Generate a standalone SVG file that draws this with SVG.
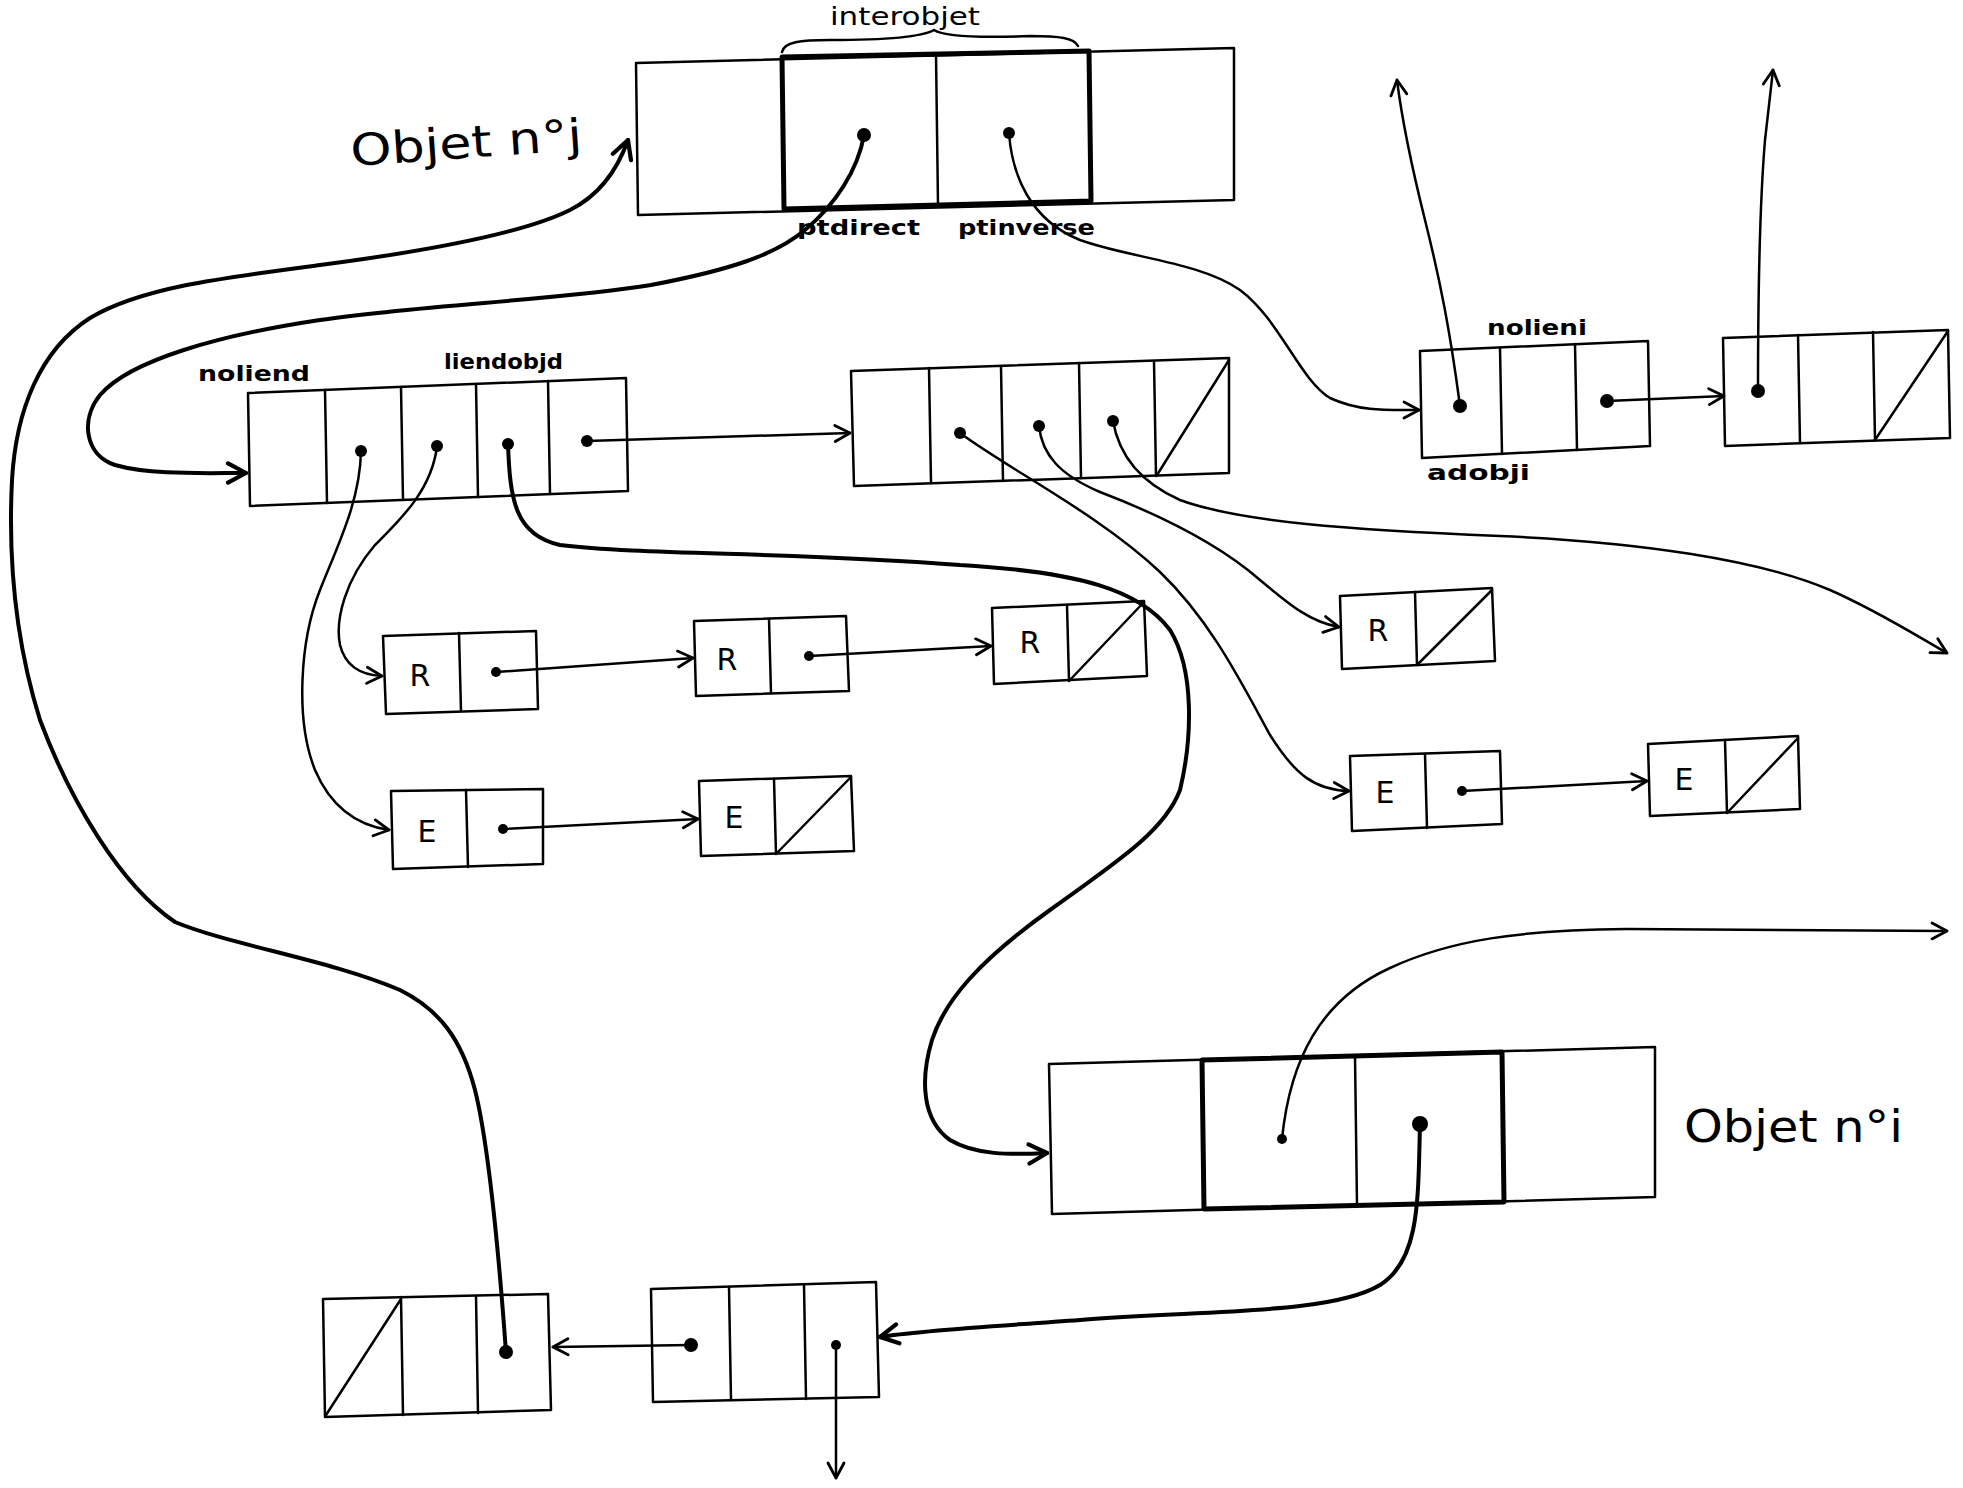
<svg xmlns="http://www.w3.org/2000/svg" width="1963" height="1488" viewBox="0 0 1963 1488">
<style>
.box{fill:none;stroke:#000;stroke-width:2.5;stroke-linejoin:round;stroke-linecap:round}
.thk{fill:none;stroke:#000;stroke-width:5;stroke-linejoin:round}
.ln{fill:none;stroke:#000;stroke-width:2.5;stroke-linecap:round}
.lnb{fill:none;stroke:#000;stroke-width:4;stroke-linecap:round}
.dot{fill:#000}
.lbl{font-family:"DejaVu Sans",sans-serif;fill:#000}
.big{font-size:44px}
.sm{font-size:22px;font-weight:bold}
.cell{font-size:30px;text-anchor:middle}
</style>
<defs>
<marker id="arr" viewBox="0 0 20 20" refX="18" refY="10" markerWidth="20" markerHeight="20" markerUnits="userSpaceOnUse" orient="auto">
<path d="M3,2 L18,10 L3,18" fill="none" stroke="#000" stroke-width="2.8" stroke-linecap="round" stroke-linejoin="round"/>
</marker>
<marker id="arrb" viewBox="0 0 20 20" refX="18" refY="10" markerWidth="24" markerHeight="24" markerUnits="userSpaceOnUse" orient="auto">
<path d="M3,2 L18,10 L3,18" fill="none" stroke="#000" stroke-width="3.5" stroke-linecap="round" stroke-linejoin="round"/>
</marker>
</defs>
<rect width="1963" height="1488" fill="#fff"/>

<g id="objet-j">
<path class="box" d="M636,63 L1234,48 L1234,200 L638,215 Z"/>
<path class="thk" d="M782,57 L1089,51 L1091,201 L784,209 Z"/>
<path class="box" d="M936,54 L938,205"/>
<circle class="dot" cx="864" cy="135" r="7"/>
<circle class="dot" cx="1009" cy="133" r="6"/>
<path class="ln" d="M782,52 C784,42 800,40 830,40 C880,40 920,38 934,30 C945,37 980,38 1030,36 C1060,36 1074,38 1078,46"/>
<text class="lbl" x="830" y="25" font-size="24" textLength="150" lengthAdjust="spacingAndGlyphs">interobjet</text>
<text class="lbl big" x="350" y="158" textLength="232" lengthAdjust="spacingAndGlyphs" transform="rotate(-4 466 140)">Objet n°j</text>
<text class="lbl sm" x="797" y="235" textLength="123" lengthAdjust="spacingAndGlyphs">ptdirect</text>
<text class="lbl sm" x="958" y="235" textLength="137" lengthAdjust="spacingAndGlyphs">ptinverse</text>
</g>

<g id="liste-d">
<path class="box" d="M248,393 L626,378 L628,491 L250,506 Z"/>
<path class="box" d="M325,390 L327,503 M401,387 L403,500 M476,384 L478,497 M548,381 L550,494"/>
<circle class="dot" cx="361" cy="451" r="6"/>
<circle class="dot" cx="437" cy="446" r="6"/>
<circle class="dot" cx="508" cy="444" r="6"/>
<circle class="dot" cx="587" cy="441" r="6"/>
<text class="lbl sm" x="198" y="381" textLength="112" lengthAdjust="spacingAndGlyphs">noliend</text>
<text class="lbl sm" x="444" y="369" textLength="119" lengthAdjust="spacingAndGlyphs">liendobjd</text>
</g>

<g id="liste-5">
<path class="box" d="M851,371 L1229,358 L1229,473 L854,486 Z"/>
<path class="box" d="M929,368 L931,483 M1001,366 L1003,481 M1079,363 L1081,478 M1154,361 L1156,476"/>
<path class="box" d="M1157,475 L1229,360"/>
<circle class="dot" cx="960" cy="433" r="6"/>
<circle class="dot" cx="1039" cy="426" r="6"/>
<circle class="dot" cx="1113" cy="421" r="6"/>
</g>

<g id="liste-i">
<path class="box" d="M1420,351 L1648,341 L1650,446 L1422,458 Z"/>
<path class="box" d="M1500,348 L1502,454 M1575,344 L1577,450"/>
<circle class="dot" cx="1460" cy="406" r="7"/>
<circle class="dot" cx="1607" cy="401" r="7"/>
<text class="lbl sm" x="1487" y="335" textLength="100" lengthAdjust="spacingAndGlyphs">nolieni</text>
<text class="lbl sm" x="1427" y="480" textLength="103" lengthAdjust="spacingAndGlyphs">adobji</text>
</g>

<g id="liste-i2">
<path class="box" d="M1723,338 L1948,330 L1950,438 L1725,446 Z"/>
<path class="box" d="M1798,335 L1800,443 M1873,332 L1875,440"/>
<path class="box" d="M1875,440 L1948,331"/>
<circle class="dot" cx="1758" cy="391" r="7"/>
</g>

<g id="r1">
<path class="box" d="M383,636 L536,631 L538,709 L386,714 Z"/>
<path class="box" d="M459,633 L461,711"/>
<text class="lbl cell" x="420" y="686">R</text>
<circle class="dot" cx="496" cy="672" r="5"/>
</g>
<g id="r2">
<path class="box" d="M694,621 L846,616 L849,691 L696,696 Z"/>
<path class="box" d="M769,619 L771,693"/>
<text class="lbl cell" x="727" y="670">R</text>
<circle class="dot" cx="809" cy="656" r="5"/>
</g>
<g id="r3">
<path class="box" d="M992,608 L1144,601 L1147,676 L994,684 Z"/>
<path class="box" d="M1067,605 L1069,681 M1069,681 L1144,602"/>
<text class="lbl cell" x="1030" y="653">R</text>
</g>
<g id="r4">
<path class="box" d="M1340,596 L1492,588 L1495,661 L1342,669 Z"/>
<path class="box" d="M1415,592 L1417,665 M1417,665 L1492,590"/>
<text class="lbl cell" x="1378" y="641">R</text>
</g>

<g id="e1">
<path class="box" d="M391,791 L543,789 L543,864 L393,869 Z"/>
<path class="box" d="M466,790 L468,867"/>
<text class="lbl cell" x="427" y="842">E</text>
<circle class="dot" cx="503" cy="829" r="5"/>
</g>
<g id="e2">
<path class="box" d="M699,781 L851,776 L854,851 L701,856 Z"/>
<path class="box" d="M774,779 L776,854 M776,854 L851,777"/>
<text class="lbl cell" x="734" y="828">E</text>
</g>
<g id="e3">
<path class="box" d="M1350,756 L1500,751 L1502,824 L1352,831 Z"/>
<path class="box" d="M1425,754 L1427,828"/>
<text class="lbl cell" x="1385" y="803">E</text>
<circle class="dot" cx="1462" cy="791" r="5"/>
</g>
<g id="e4">
<path class="box" d="M1648,744 L1798,736 L1800,809 L1650,816 Z"/>
<path class="box" d="M1725,740 L1727,813 M1727,813 L1798,738"/>
<text class="lbl cell" x="1684" y="790">E</text>
</g>

<g id="objet-i">
<path class="box" d="M1049,1064 L1655,1047 L1655,1197 L1052,1214 Z"/>
<path class="thk" d="M1202,1060 L1502,1052 L1504,1202 L1204,1209 Z"/>
<path class="box" d="M1355,1056 L1357,1205"/>
<circle class="dot" cx="1282" cy="1139" r="5"/>
<circle class="dot" cx="1420" cy="1124" r="8"/>
<text class="lbl big" x="1684" y="1142" textLength="219" lengthAdjust="spacingAndGlyphs">Objet n°i</text>
</g>

<g id="b1">
<path class="box" d="M323,1299 L548,1294 L551,1410 L325,1417 Z"/>
<path class="box" d="M401,1297 L403,1415 M476,1296 L478,1413 M326,1415 L401,1299"/>
<circle class="dot" cx="506" cy="1352" r="7"/>
</g>
<g id="b2">
<path class="box" d="M651,1289 L876,1282 L879,1397 L653,1402 Z"/>
<path class="box" d="M729,1287 L731,1400 M804,1285 L806,1399"/>
<circle class="dot" cx="691" cy="1345" r="7"/>
<circle class="dot" cx="836" cy="1345" r="5"/>
</g>

<g id="connectors">
<path class="ln" d="M691,1345 L553,1347" marker-end="url(#arr)"/>
<path class="ln" d="M836,1345 L836,1478" marker-end="url(#arr)"/>
<path class="lnb" d="M1420,1124 C1418,1200 1420,1260 1380,1285 C1330,1315 1200,1310 1080,1320 C1000,1326 920,1330 880,1337" marker-end="url(#arrb)"/>
<path class="ln" d="M1282,1139 C1290,1060 1320,1000 1390,968 C1450,940 1520,930 1627,929 L1947,931" marker-end="url(#arr)"/>
<path class="lnb" d="M506,1352 C500,1270 490,1150 475,1090 C462,1040 440,1010 400,990 C330,960 230,945 175,922 C120,885 70,800 40,720 C15,640 8,560 12,480 C16,410 40,350 90,318 C140,288 220,278 320,265 C420,252 520,235 570,210 C600,195 618,168 628,140" marker-end="url(#arrb)"/>
<path class="lnb" d="M864,135 C858,170 835,205 805,230 C775,255 730,270 651,285 C560,300 420,305 320,320 C220,335 130,360 100,395 C80,420 85,455 115,465 C150,475 200,473 246,473" marker-end="url(#arrb)"/>
<path class="ln" d="M1009,133 C1012,175 1030,220 1080,240 C1130,258 1200,262 1240,290 C1280,320 1300,380 1330,398 C1360,412 1390,410 1419,410" marker-end="url(#arr)"/>
<path class="ln" d="M1607,401 L1724,396" marker-end="url(#arr)"/>
<path class="ln" d="M1460,406 C1450,330 1440,280 1425,220 C1410,160 1402,120 1397,80" marker-end="url(#arr)"/>
<path class="ln" d="M1758,391 C1758,300 1760,200 1765,140 L1773,70" marker-end="url(#arr)"/>
<path class="ln" d="M587,441 L850,433" marker-end="url(#arr)"/>
<path class="ln" d="M361,451 C360,500 340,540 320,590 C300,640 295,720 315,770 C330,805 355,825 389,830" marker-end="url(#arr)"/>
<path class="ln" d="M437,446 C432,490 400,520 375,545 C345,580 335,620 340,645 C345,665 360,675 382,676" marker-end="url(#arr)"/>
<path class="lnb" d="M508,444 C510,500 515,535 560,545 C640,555 800,552 960,565 C1080,572 1140,590 1170,630 C1195,670 1192,740 1180,790 C1165,830 1120,860 1050,910 C980,960 945,1000 932,1040 C920,1080 922,1120 950,1140 C975,1155 1010,1155 1047,1153" marker-end="url(#arrb)"/>
<path class="ln" d="M496,672 L693,658" marker-end="url(#arr)"/>
<path class="ln" d="M809,656 L991,646" marker-end="url(#arr)"/>
<path class="ln" d="M503,829 L698,819" marker-end="url(#arr)"/>
<path class="ln" d="M1462,791 L1647,781" marker-end="url(#arr)"/>
<path class="ln" d="M960,433 C1010,470 1100,515 1160,572 C1210,620 1240,680 1270,735 C1295,775 1315,790 1349,791" marker-end="url(#arr)"/>
<path class="ln" d="M1039,426 C1042,455 1060,475 1100,492 C1160,515 1220,545 1260,580 C1290,605 1310,622 1339,627" marker-end="url(#arr)"/>
<path class="ln" d="M1113,421 C1118,450 1135,480 1180,500 C1240,522 1350,530 1500,536 C1640,542 1760,560 1830,590 C1880,612 1920,638 1947,653" marker-end="url(#arr)"/>
</g>
</svg>
